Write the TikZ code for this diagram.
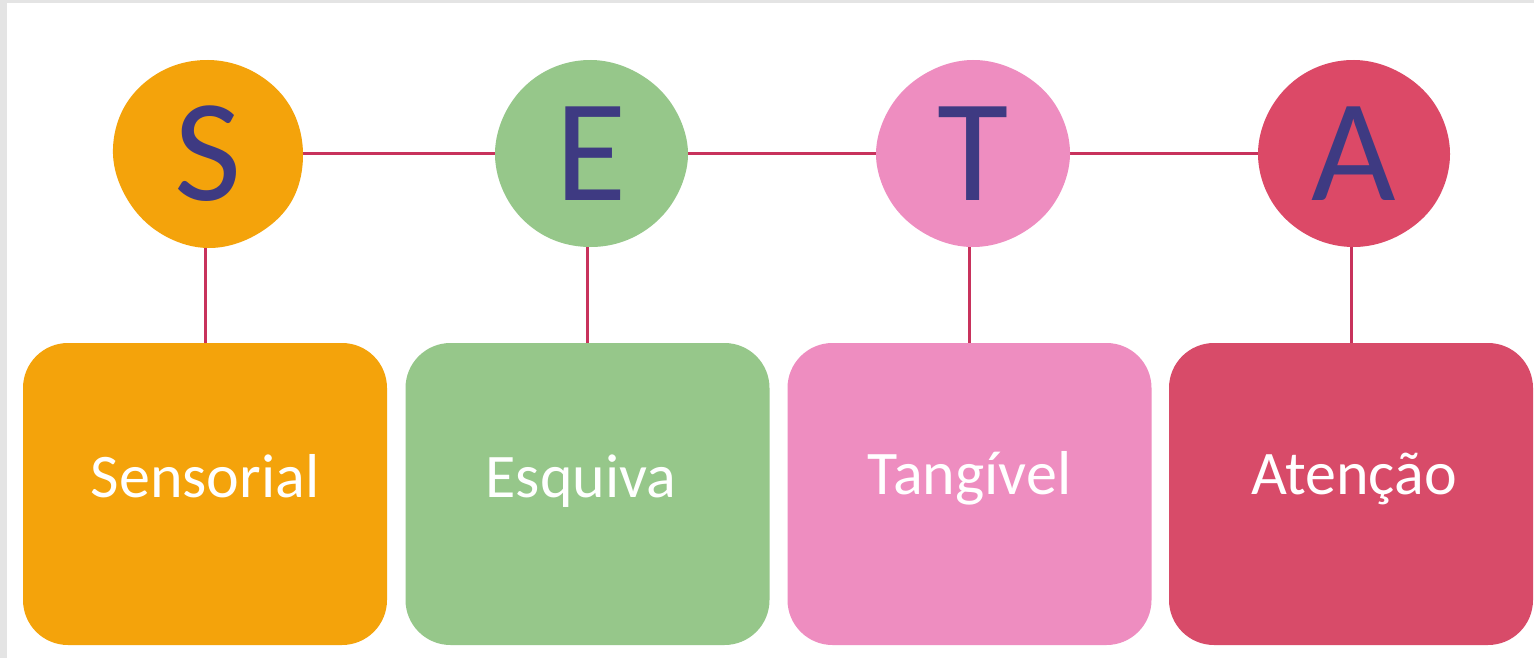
\documentclass[tikz,border=0pt]{standalone}
\usepackage{fontspec}
\setmainfont{Carlito}
\usetikzlibrary{backgrounds}
\definecolor{framegray}{HTML}{E4E4E4}
\definecolor{orangec}{HTML}{F4A30B}
\definecolor{greenc}{HTML}{96C78A}
\definecolor{pinkc}{HTML}{EE8DC0}
\definecolor{redc}{HTML}{D84B69}
\definecolor{redblob}{HTML}{DC4967}
\definecolor{linec}{HTML}{C8325C}
\definecolor{letterc}{HTML}{3E3A82}
\begin{document}
\begin{tikzpicture}[x=1pt,y=-1pt,
  box/.style={rectangle, rounded corners=45pt, minimum width=364pt, minimum height=302pt, inner sep=0pt},
  blobnode/.style={circle, minimum size=188pt, inner sep=0pt, text=letterc, font=\fontsize{146}{146}\selectfont},
  lbl/.style={anchor=base, text=white, font=\fontsize{62}{62}\selectfont, inner sep=0pt},
  conn/.style={draw=linec, line width=3pt}]
\begin{scope}[on background layer]
\fill[framegray] (0,0) rectangle (1534,658);
\fill[white] (7,3) rectangle (1534,658);
\end{scope}
% blob shapes
\fill[orangec, shift={(208,154)}] plot[smooth cycle, tension=0.63] coordinates {(0:95) (30:96) (60:94) (90:94) (120:92.5) (150:92.5) (180:95) (210:96) (240:95) (270:94) (300:94) (330:95)};
\fill[greenc, shift={(591,154)}] plot[smooth cycle, tension=0.63] coordinates {(0:97) (30:95) (60:93.5) (90:93) (120:94) (150:95) (180:96) (210:95) (240:94.5) (270:94) (300:93.5) (330:95)};
\fill[pinkc, shift={(973,154)}] plot[smooth cycle, tension=0.63] coordinates {(0:97) (30:95) (60:93) (90:93) (120:93) (150:95) (180:97) (210:95) (240:93.5) (270:94) (300:94) (330:96)};
\fill[redblob, shift={(1354,154)}] plot[smooth cycle, tension=0.63] coordinates {(0:96) (30:95) (60:93) (90:93) (120:93.5) (150:95) (180:96) (210:95) (240:94.5) (270:94) (300:93.5) (330:95)};
% blob nodes with letters
\node[blobnode] (S) at (208,154) {S};
\node[blobnode] (E) at (591,154) {E};
\node[blobnode] (T) at (973,154) {T};
\node[blobnode] (A) at (1354,154) {A};
% boxes
\node[box, fill=orangec] (bS) at (205,494) {};
\node[box, fill=greenc] (bE) at (587.5,494) {};
\node[box, fill=pinkc] (bT) at (969.5,494) {};
\node[box, fill=redc] (bA) at (1351,494) {};
\node[lbl] (tS) at (205,497) {Sensorial};
\node[lbl] (tE) at (581,497) {Esquiva};
\node[lbl] (tT) at (969.5,494) {Tangível};
\node[lbl] (tA) at (1354,494) {Atenção};
% connectors
\begin{scope}[on background layer]
\draw[conn] (S) -- (E) -- (T) -- (A);
\draw[conn] (bS.north) -- (bS.north |- S.center);
\draw[conn] (bE.north) -- (bE.north |- E.center);
\draw[conn] (bT.north) -- (bT.north |- T.center);
\draw[conn] (bA.north) -- (bA.north |- A.center);
\end{scope}
\end{tikzpicture}
\end{document}
